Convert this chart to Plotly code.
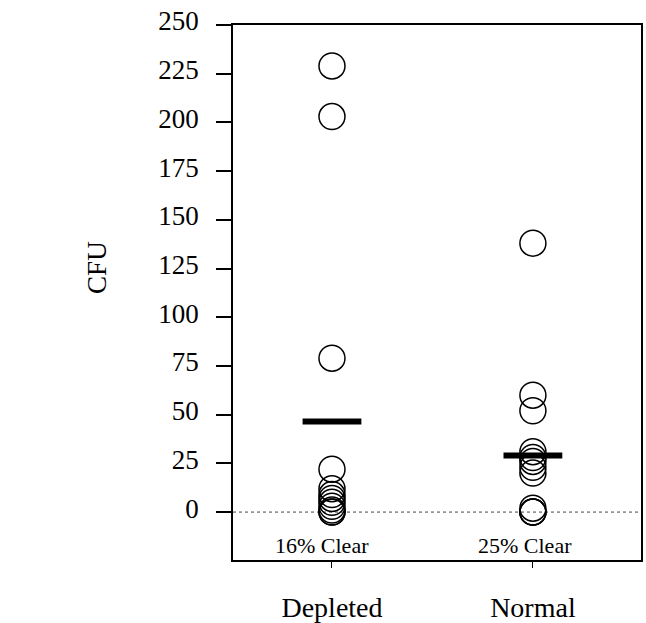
import plotly.graph_objects as go

categories = ["Depleted", "Normal"]
depleted_cfu = [229, 203, 79, 22, 12, 9, 7, 5, 3, 1, 0, 0]
normal_cfu = [138, 60, 52, 31, 28, 26, 23, 20, 2, 0, 0, 0]
group_means = [46.5, 29]
clear_labels = ["16% Clear", "25% Clear"]
y_ticks = [0, 25, 50, 75, 100, 125, 150, 175, 200, 225, 250]

FONT = "Liberation Serif"

fig = go.Figure()

for cat, vals in zip(categories, [depleted_cfu, normal_cfu]):
    fig.add_trace(go.Scatter(
        x=[cat] * len(vals), y=vals, mode="markers",
        marker=dict(symbol="circle-open", size=26, color="black",
                    line=dict(width=1.5, color="black")),
        showlegend=False, hoverinfo="y",
    ))

fig.add_trace(go.Scatter(
    x=categories, y=group_means, mode="markers",
    marker=dict(symbol="line-ew", size=42, color="black",
                line=dict(width=6, color="black")),
    showlegend=False,
))

fig.add_hline(y=0, line=dict(color="#444444", width=1, dash="dot"), layer="below")

for cat, lab, xs in zip(categories, clear_labels, [-10, -8]):
    fig.add_annotation(x=cat, y=-17, text=lab, showarrow=False, xshift=xs,
                       font=dict(family=FONT, size=22, color="black"))

fig.add_annotation(xref="paper", yref="paper", x=0, y=0.546, xshift=-136,
                   xanchor="center", yanchor="middle",
                   text="CFU", textangle=-90, showarrow=False,
                   font=dict(family=FONT, size=27, color="black"))

fig.update_layout(
    width=646, height=623,
    margin=dict(l=233, r=5, t=25, b=63, autoexpand=False),
    plot_bgcolor="white", paper_bgcolor="white",
    font=dict(family=FONT, color="black"),
    xaxis=dict(
        type="category", categoryorder="array", categoryarray=categories,
        range=[-0.4926, 1.538], automargin=False,
        showline=True, linecolor="black", linewidth=1.5, mirror=True,
        ticks="outside", ticklen=6, tickwidth=1, tickcolor="black",
        ticklabelstandoff=16,
        tickfont=dict(family=FONT, size=28, color="black"),
        showgrid=False, zeroline=False,
    ),
    yaxis=dict(
        range=[-24.6, 250], automargin=False,
        tickvals=y_ticks, ticktext=[str(v) for v in y_ticks],
        showline=True, linecolor="black", linewidth=1.5, mirror=True,
        ticks="outside", ticklen=15, tickwidth=1.5, tickcolor="black",
        ticklabelstandoff=12, ticklabelshift=-4,
        tickfont=dict(family=FONT, size=27, color="black"),
        showgrid=False, zeroline=False,
    ),
)

fig.write_html("out.html", config={"displayModeBar": False},
               post_script="document.body.style.margin='0';document.body.style.overflow='hidden';")
